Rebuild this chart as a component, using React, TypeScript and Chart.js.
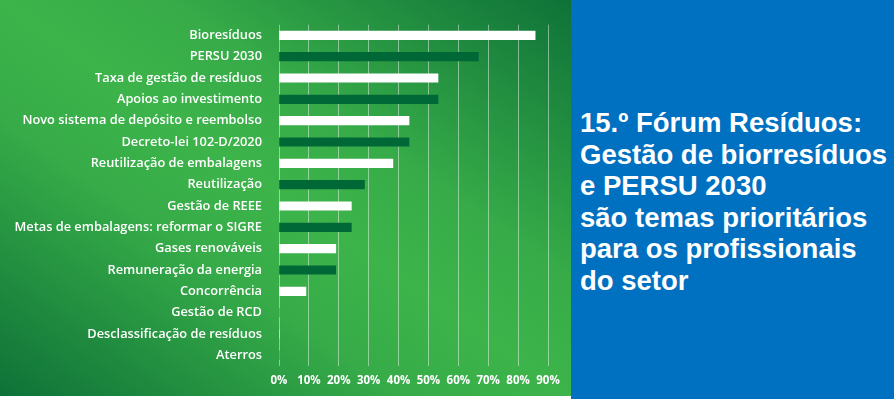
import { useEffect, useRef } from "react";
import { Chart, registerables } from "chart.js";

Chart.register(...registerables);

const categories = [
  "Bioresíduos",
  "PERSU 2030",
  "Taxa de gestão de resíduos",
  "Apoios ao investimento",
  "Novo sistema de depósito e reembolso",
  "Decreto-lei 102-D/2020",
  "Reutilização de embalagens",
  "Reutilização",
  "Gestão de REEE",
  "Metas de embalagens: reformar o SIGRE",
  "Gases renováveis",
  "Remuneração da energia",
  "Concorrência",
  "Gestão de RCD",
  "Desclassificação de resíduos",
  "Aterros",
];

const values = [85.7, 66.7, 53.2, 53.2, 43.5, 43.5, 38.1, 28.6, 24.2, 24.2, 19.0, 19.0, 9.0, 0, 0, 0];

const xTickValues = [0, 10, 20, 30, 40, 50, 60, 70, 80, 90];

const titleLines = [
  "15.º Fórum Resíduos:",
  "Gestão de biorresíduos",
  "e PERSU 2030",
  "são temas prioritários",
  "para os profissionais",
  "do setor",
];

const WHITE = "#ffffff";
const DARK = "#006837";

export default function App() {
  const ref = useRef<HTMLCanvasElement>(null);

  useEffect(() => {
    document.body.style.margin = "0";
    const chart = new Chart(ref.current!, {
      type: "bar",
      data: {
        labels: categories,
        datasets: [
          {
            data: values,
            backgroundColor: categories.map((_, i) => (i % 2 === 0 ? WHITE : DARK)),
            borderWidth: 0,
            barThickness: 8.5,
          },
        ],
      },
      options: {
        indexAxis: "y",
        responsive: false,
        animation: false,
        layout: { padding: { top: 23, right: 23, left: 0, bottom: 0 } },
        plugins: { legend: { display: false }, tooltip: { enabled: false } },
        scales: {
          x: {
            min: xTickValues[0],
            max: xTickValues[xTickValues.length - 1],
            afterBuildTicks: (s: any) => {
              s.ticks = xTickValues.map((v) => ({ value: v }));
            },
            ticks: {
              callback: (v: any) => v + "%",
              color: WHITE,
              font: { family: "Open Sans", weight: "bold", size: 11.5 },
              padding: 8,
              maxRotation: 0,
            },
            grid: { color: "rgba(255,255,255,0.45)", drawTicks: false, lineWidth: 1 },
            border: { display: false },
            afterFit: (s: any) => {
              s.height = 30;
            },
          },
          y: {
            ticks: {
              color: WHITE,
              font: { family: "Open Sans", weight: "600", size: 12.8 },
              padding: 17,
            },
            grid: { display: false, drawTicks: false },
            border: { display: false },
            afterFit: (s: any) => {
              s.width = 279;
            },
          },
        },
      },
    });
    return () => chart.destroy();
  }, []);

  return (
    <div style={{ position: "fixed", left: 0, top: 0, width: 894, height: 399, background: "#ffffff", overflow: "hidden" }}>
      <div
        style={{
          position: "absolute",
          left: 0,
          top: 0,
          width: 571,
          height: 396,
          background: "linear-gradient(to top right, #0e7238 0%, #36ab48 35%, #3db44a 50%, #36ab48 65%, #0e7238 100%)",
        }}
      >
        <canvas ref={ref} width={571} height={396} style={{ display: "block" }} />
      </div>
      <div style={{ position: "absolute", left: 571, top: 0, width: 323, height: 399, background: "#0070c0" }}>
        <div
          style={{
            position: "absolute",
            left: 9,
            top: 107,
            color: WHITE,
            fontFamily: "'Liberation Sans', Arial, sans-serif",
            fontWeight: "bold",
            fontSize: 27.5,
            lineHeight: "31.5px",
            whiteSpace: "nowrap",
          }}
        >
          {titleLines.map((l, i) => (
            <div key={i}>{l}</div>
          ))}
        </div>
      </div>
    </div>
  );
}
